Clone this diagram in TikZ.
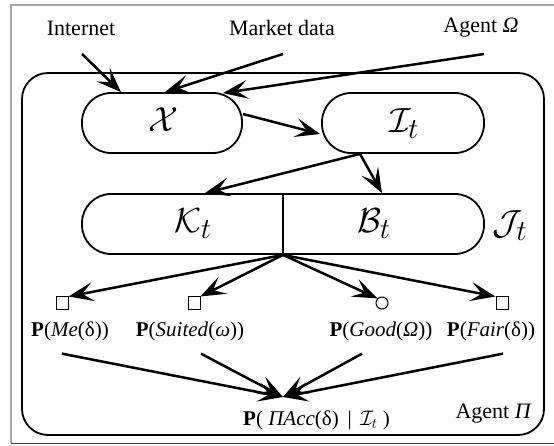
\RequirePackage{fix-cm}
\documentclass[tikz,border=0pt]{standalone}
\usepackage{graphicx}
\usepackage{fontspec}
\setmainfont{Liberation Serif}
\usetikzlibrary{arrows.meta}
\newcommand{\mybigmath}[1]{\scalebox{1.4}{$#1$}}
\begin{document}
\begin{tikzpicture}[x=1pt,y=-1pt,
  pill/.style={draw,line width=1.8pt,rounded corners=29pt,minimum height=60pt,inner sep=0pt},
  arr/.style={line width=2.5pt,-{Stealth[length=25pt,width=19pt,inset=11pt]}},
  lbl/.style={font=\fontsize{22}{24}\selectfont,inner sep=0pt},
  plbl/.style={font=\fontsize{21}{24}\selectfont,inner sep=0pt,anchor=base},
  mth/.style={font=\fontsize{24.88}{28}\selectfont,inner sep=0pt},
  sq/.style={draw,line width=1pt,minimum size=12pt,inner sep=0pt},
  circ/.style={draw,circle,line width=1pt,minimum size=12pt,inner sep=0pt}]
\clip (0,0) rectangle (554,446);
\useasboundingbox (0,0) rectangle (554,446);
% frame
\draw[gray!70,line width=1.2pt] (11,443) -- (11,5) -- (560,5);
\draw[black!75,line width=1pt] (11,443) -- (560,443);
% outer agent box
\draw[line width=1.8pt,rounded corners=26pt] (22,73) rectangle (544,435);
% top labels
\node[lbl] (inet) at (81,28) {Internet};
\node[lbl] (mkt) at (282,28) {Market data};
\node[lbl] (ago) at (481,28) {Agent \textit{Ω}};
% boxes
\node[pill,minimum width=160pt] (X) at (162,123) {};
\node[mth] (Xt) at (163,120) {\mybigmath{\mathcal{X}}};
\node[pill,minimum width=162pt] (I) at (403,123) {};
\node[mth] (It) at (404,124) {\mybigmath{\mathcal{I}_t}};
\node[pill,minimum width=402pt] (KB) at (283,224) {};
\draw[line width=1.4pt] (KB.north) -- (KB.south);
\node[mth] (K) at (193,224) {\mybigmath{\mathcal{K}_t}};
\node[mth] (B) at (374,224) {\mybigmath{\mathcal{B}_t}};
\node[mth] (J) at (510,226) {\mybigmath{\mathcal{J}_t}};
% input arrows
\coordinate (inetS) at (82,54);
\coordinate (mktS) at (283,54);
\coordinate (agoS) at (484,54);
\draw[arr] (inetS) -- ([xshift=-41pt]X.north);
\draw[arr] (mktS) -- ([xshift=3pt]X.north);
\draw[arr] (agoS) -- ([xshift=61pt,yshift=-1pt]X.north);
\draw[arr] ([yshift=9pt]X.east) -- ([yshift=-11pt,xshift=-1pt]I.west);
\draw[arr] ([xshift=-43pt]I.south) -- ([xshift=-78pt]KB.north);
\draw[arr] ([xshift=-43pt]I.south) -- ([xshift=99pt]KB.north);
% leaves
\node[sq] (sMe) at (62,303) {};
\node[sq] (sSu) at (194,303) {};
\node[circ] (sGo) at (382,303) {};
\node[sq] (sFa) at (502,303) {};
\draw[arr] (KB.south) -- (sMe.north east);
\draw[arr] (KB.south) -- (sSu.north east);
\draw[arr] (KB.south) -- (sGo.north west);
\draw[arr] (KB.south) -- (sFa.north west);
\node[plbl] (pMe) at (70,336) {\textbf{P}(\textit{Me}(δ))};
\node[plbl] (pSu) at (190,336) {\textbf{P}(\textit{Suited}(\textit{ω}))};
\node[plbl] (pGo) at (381,336) {\textbf{P}(\textit{Good}(\textit{Ω}))};
\node[plbl] (pFa) at (491,336) {\textbf{P}(\textit{Fair}(δ))};
\node[plbl,anchor=base west] (acc) at (243,425) {\textbf{P}( \textit{ΠAcc}(δ) \,|\, $\mathcal{I}_t$ )};
\node[lbl,anchor=base east] (agp) at (532,418) {Agent \textit{Π}};
\coordinate (conv) at (283,397);
\draw[arr] ([xshift=-8pt,yshift=-13pt]pMe.south) -- (conv);
\draw[arr] ([xshift=11pt,yshift=-13pt]pSu.south) -- (conv);
\draw[arr] ([xshift=-19pt,yshift=-13pt]pGo.south) -- (conv);
\draw[arr] ([xshift=12pt,yshift=-13pt]pFa.south) -- (conv);
\end{tikzpicture}
\end{document}
